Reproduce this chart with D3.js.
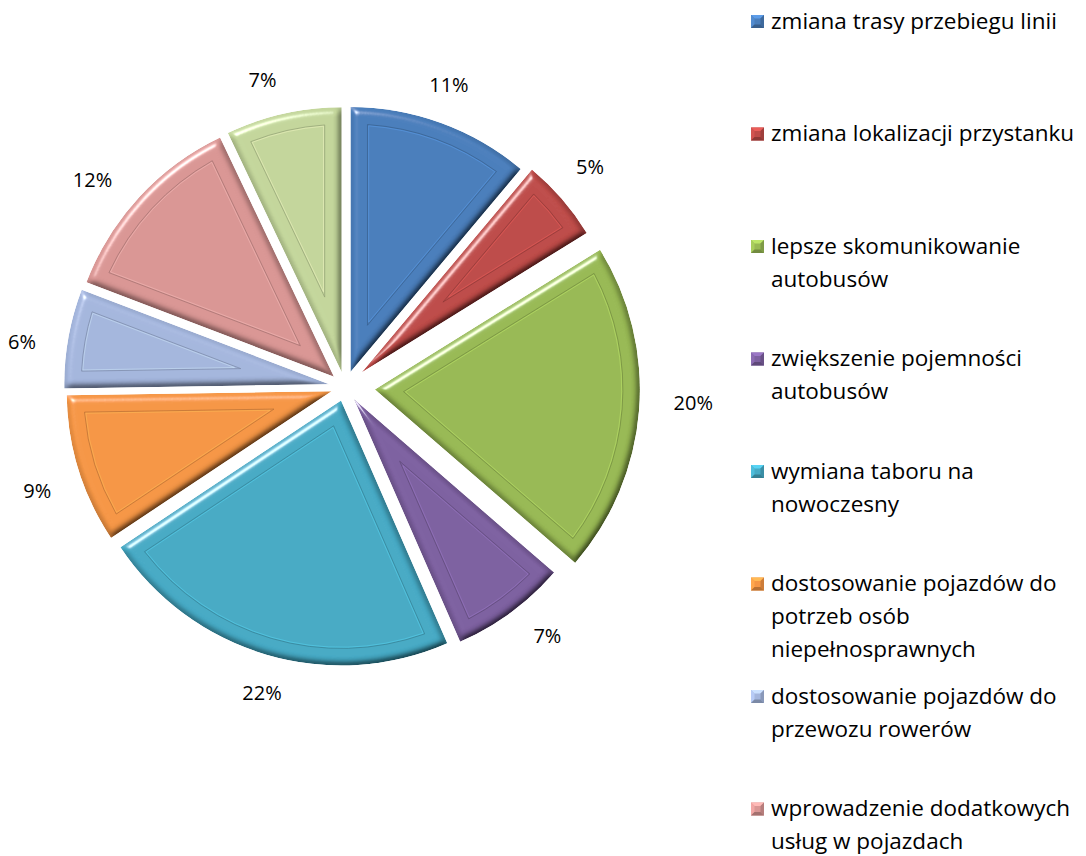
<!DOCTYPE html>
<html><head><meta charset="utf-8">
<script src="https://cdn.jsdelivr.net/npm/d3@7"></script>
<style>body{margin:0;background:#fff}svg{display:block}</style>
</head><body>
<svg id="chart" width="1086" height="856"></svg>
<script>
// ---- data ----
const categories = [
  "zmiana trasy przebiegu linii",
  "zmiana lokalizacji przystanku",
  "lepsze skomunikowanie autobusów",
  "zwiększenie pojemności autobusów",
  "wymiana taboru na nowoczesny",
  "dostosowanie pojazdów do potrzeb osób niepełnosprawnych",
  "dostosowanie pojazdów do przewozu rowerów",
  "wprowadzenie dodatkowych usług w pojazdach",
  "inne"
];
const values = [11, 5, 20, 7, 22, 9, 6, 12, 7];
const valueLabels = ["11%", "5%", "20%", "7%", "22%", "9%", "6%", "12%", "7%"];

// ---- style ----
const colors = ["#4A7EBB","#BE4B48","#98B954","#7D60A0","#46AAC5","#F59645","#A4B6DD","#D99694","#C3D69B"];
const explode = [16, 22, 30, 15, 14, 14, 16, 15, 15];
const W = 1086, H = 856;
const cx = 345, cy = 387, R = 265;
const FONT = "'Open Sans', 'Noto Sans', sans-serif";

const svg = d3.select("#chart");
const defs = svg.append("defs");
const f = defs.append("filter").attr("id","bevel").attr("x","-5%").attr("y","-5%").attr("width","110%").attr("height","110%");
f.append("feGaussianBlur").attr("in","SourceAlpha").attr("stdDeviation",3.5).attr("result","blur");
const dl = f.append("feDiffuseLighting").attr("in","blur").attr("surfaceScale",6).attr("diffuseConstant",1.155)
  .attr("lighting-color","#fff").attr("result","diff");
dl.append("feDistantLight").attr("azimuth",235).attr("elevation",60);
f.append("feComposite").attr("in","SourceGraphic").attr("in2","diff").attr("operator","arithmetic")
  .attr("k1",1).attr("k2",0).attr("k3",0).attr("k4",0).attr("result","lit");
const sl = f.append("feSpecularLighting").attr("in","blur").attr("surfaceScale",6).attr("specularConstant",0.9)
  .attr("specularExponent",35).attr("lighting-color","#fff").attr("result","spec");
sl.append("feDistantLight").attr("azimuth",235).attr("elevation",30);
f.append("feComposite").attr("in","spec").attr("in2","SourceAlpha").attr("operator","in").attr("result","specIn");
f.append("feComposite").attr("in","lit").attr("in2","specIn").attr("operator","arithmetic")
  .attr("k1",0).attr("k2",1).attr("k3",0.8).attr("k4",0).attr("result","out");
f.append("feComposite").attr("in","out").attr("in2","SourceAlpha").attr("operator","in");

const pie = d3.pie().sort(null).value(d => d).startAngle(0).endAngle(2*Math.PI);
const arcs = pie(values);
const arcGen = d3.arc().innerRadius(0).outerRadius(R);

const pt = (a, r) => [r*Math.sin(a), -r*Math.cos(a)];
function insetPath(a0, a1, r, t) {
  const half = (a1 - a0) / 2, mid = (a0 + a1) / 2;
  const apex = pt(mid, t / Math.sin(half));
  const ri = r - t;
  const da = Math.asin(t / ri);
  const p0 = pt(a0 + da, ri), p1 = pt(a1 - da, ri);
  const large = (a1 - a0 - 2*da) > Math.PI ? 1 : 0;
  return `M${apex[0]},${apex[1]}L${p0[0]},${p0[1]}A${ri},${ri} 0 ${large} 1 ${p1[0]},${p1[1]}Z`;
}

const g = svg.append("g").attr("transform", `translate(${cx},${cy})`);
const slices = g.selectAll("g.slice").data(arcs).join("g").attr("class","slice")
  .attr("transform", (d,i) => {
    const m = (d.startAngle + d.endAngle)/2;
    const [dx, dy] = pt(m, explode[i]);
    return `translate(${dx},${dy})`;
  });
slices.append("path").attr("d", arcGen).attr("fill", (d,i) => colors[i]).attr("filter","url(#bevel)");
slices.append("path").attr("d", d => insetPath(d.startAngle, d.endAngle, R, 17))
  .attr("fill","none").attr("stroke",(d,i)=>d3.color(colors[i]).darker(0.8)).attr("stroke-width",1).attr("stroke-opacity",0.7);
slices.append("path").attr("d", d => insetPath(d.startAngle, d.endAngle, R, 18.2))
  .attr("fill","none").attr("stroke",(d,i)=>d3.color(colors[i]).brighter(0.8)).attr("stroke-width",0.8).attr("stroke-opacity",0.5);

// value labels
const gap = 30, lh = 18, kx = 0.6, ky = 0.4, rot = -2 * Math.PI / 180;
slices.each(function(d, i) {
  const m = (d.startAngle + d.endAngle)/2 + rot;
  const ux = Math.sin(m), uy = -Math.cos(m);
  const [ox, oy] = pt((d.startAngle + d.endAngle)/2, explode[i]);
  const t = d3.select(this).append("text").text(valueLabels[i])
    .attr("font-family", FONT).attr("font-size", 20).attr("fill","#000")
    .attr("text-anchor","middle").attr("dy","0.36em");
  const w = t.node().getComputedTextLength();
  let px = (R + gap) * ux + ux * w * kx, py = (R + gap) * uy + uy * lh * ky;
  // keep label inside the canvas
  const absX = cx + ox + px, minX = w/2 + 8;
  if (absX < minX) px += minX - absX;
  t.attr("x", px).attr("y", py);
});

// legend
const lg = svg.append("g");
const lx = 751, tx = 771, maxW = 1086 - tx, step = 112.5, y0 = 21.5, lineH = 33, ms = 13;
categories.forEach((name, i) => {
  const yc = y0 + i * step;
  if (yc > H) return;
  const c = d3.color(colors[i]);
  const x0 = lx, x1 = lx + ms, yT = yc - ms/2, yB = yc + ms/2, inset = 3.5;
  const item = lg.append("g");
  item.append("rect").attr("x", x0).attr("y", yT).attr("width", ms).attr("height", ms).attr("fill", c);
  item.append("path").attr("d", `M${x0},${yT}L${x1},${yT}L${x1-inset},${yT+inset}L${x0+inset},${yT+inset}Z`).attr("fill", c.brighter(0.6));
  item.append("path").attr("d", `M${x0},${yT}L${x0+inset},${yT+inset}L${x0+inset},${yB-inset}L${x0},${yB}Z`).attr("fill", c.brighter(0.3));
  item.append("path").attr("d", `M${x1},${yT}L${x1},${yB}L${x1-inset},${yB-inset}L${x1-inset},${yT+inset}Z`).attr("fill", c.darker(0.5));
  item.append("path").attr("d", `M${x0},${yB}L${x1},${yB}L${x1-inset},${yB-inset}L${x0+inset},${yB-inset}Z`).attr("fill", c.darker(0.8));
  const text = item.append("text").attr("font-family", FONT).attr("font-size", 22.5).attr("fill","#000");
  const words = name.split(" ");
  let lines = [], cur = "";
  const probe = text.append("tspan");
  words.forEach(wd => {
    const test = cur ? cur + " " + wd : wd;
    probe.text(test);
    if (probe.node().getComputedTextLength() > maxW && cur) { lines.push(cur); cur = wd; }
    else cur = test;
  });
  lines.push(cur);
  probe.remove();
  lines.forEach((ln, k) => {
    const yy = yc + k * lineH;
    if (yy > H + 10) return;
    text.append("tspan").attr("x", tx).attr("y", yy).attr("dy","0.33em").text(ln);
  });
});
</script>
</body></html>
